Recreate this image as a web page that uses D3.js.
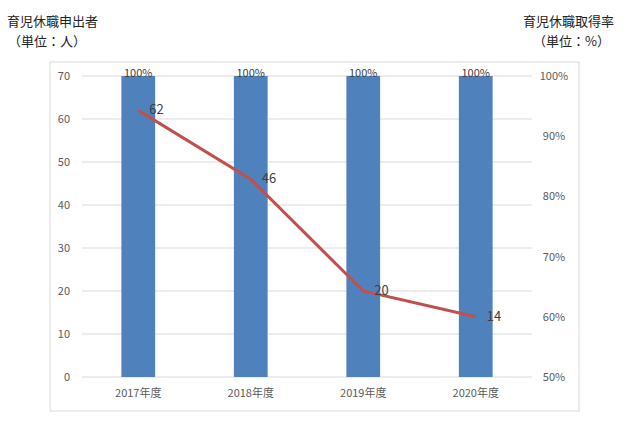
<!DOCTYPE html>
<html><head><meta charset="utf-8">
<script src="https://cdn.jsdelivr.net/npm/d3@7"></script>
<style>body{margin:0;background:#fff}text{font-family:"Noto Sans CJK JP","Noto Sans",sans-serif}</style>
</head><body><svg id="c" width="625" height="428"></svg>
<script>
const years = ['2017年度', '2018年度', '2019年度', '2020年度']
const applicants = [62, 46, 20, 14]
const rates = [100, 100, 100, 100]
const leftTicks = [0, 10, 20, 30, 40, 50, 60, 70]
const rightTicks = [50, 60, 70, 80, 90, 100]

const svg = d3.select('#c')
const plot = { left: 82, right: 532, top: 76, bottom: 377 }

svg.append('rect').attr('x', 50).attr('y', 62).attr('width', 529).attr('height', 349)
  .attr('fill', 'none').attr('stroke', '#d9d9d9')

const x = d3.scaleBand().domain(years).range([plot.left, plot.right]).paddingInner(0.7).paddingOuter(0.35)
const yL = d3.scaleLinear().domain([0, 70]).range([plot.bottom, plot.top])
const yR = d3.scaleLinear().domain([50, 100]).range([plot.bottom, plot.top])

svg.append('g').selectAll('line').data(leftTicks).join('line')
  .attr('x1', plot.left).attr('x2', plot.right).attr('y1', d => yL(d)).attr('y2', d => yL(d))
  .attr('stroke', '#d9d9d9')

svg.append('g').selectAll('text').data(leftTicks).join('text')
  .attr('x', 70).attr('y', d => yL(d) + 4).attr('text-anchor', 'end')
  .attr('font-size', 11).attr('fill', '#595959').text(d => d)

svg.append('g').selectAll('text').data(rightTicks).join('text')
  .attr('x', 554).attr('y', d => yR(d) + 4).attr('text-anchor', 'middle')
  .attr('font-size', 11).attr('fill', '#595959').text(d => d + '%')

svg.append('g').selectAll('rect').data(rates).join('rect')
  .attr('x', (d, i) => x(years[i])).attr('width', x.bandwidth())
  .attr('y', d => yR(d)).attr('height', d => plot.bottom - yR(d)).attr('fill', '#4f81bd')

svg.append('g').selectAll('text').data(rates).join('text')
  .attr('x', (d, i) => x(years[i]) + x.bandwidth() / 2).attr('y', d => yR(d) + 1)
  .attr('text-anchor', 'middle').attr('font-size', 11).attr('fill', '#404040').text(d => d + '%')

const cx = i => x(years[i]) + x.bandwidth() / 2
svg.append('path').datum(applicants)
  .attr('d', d3.line().x((d, i) => cx(i)).y(d => yL(d)))
  .attr('fill', 'none').attr('stroke', '#c0504d').attr('stroke-width', 3)

svg.append('g').selectAll('text').data(applicants).join('text')
  .attr('x', (d, i) => cx(i) + 11).attr('y', d => yL(d) + 4)
  .attr('font-size', 13).attr('fill', '#404040').text(d => d)

svg.append('g').selectAll('text').data(years).join('text')
  .attr('x', d => x(d) + x.bandwidth() / 2).attr('y', 397).attr('text-anchor', 'middle')
  .attr('font-size', 11).attr('fill', '#595959').text(d => d)

svg.append('text').attr('x', 7).attr('y', 26).attr('font-size', 13).attr('fill', '#222').text('育児休職申出者')
svg.append('text').attr('x', 8).attr('y', 46).attr('font-size', 13).attr('fill', '#222').text('（単位：人）')
svg.append('text').attr('x', 614).attr('y', 26).attr('text-anchor', 'end').attr('font-size', 13).attr('fill', '#222').text('育児休職取得率')
svg.append('text').attr('x', 610).attr('y', 46).attr('text-anchor', 'end').attr('font-size', 13).attr('fill', '#222').text('（単位：%）')
</script></body></html>
